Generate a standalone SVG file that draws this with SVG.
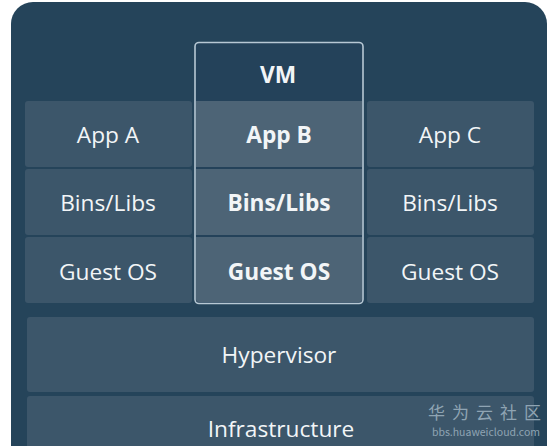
<svg xmlns="http://www.w3.org/2000/svg" width="554" height="446" viewBox="0 0 554 446">
<style>
.cell{fill:#3c566a}
.cellb{fill:#4d6476}
.t{font-family:"Open Sans","Noto Sans",sans-serif;font-size:22.7px;fill:#f2f5f7;text-anchor:middle}
.b{font-weight:bold}
.wm{font-family:"Noto Sans CJK SC","Noto Sans",sans-serif;fill:#8fa4b3}
</style>
<rect width="554" height="446" fill="#ffffff"/>
<rect id="panel" x="11" y="2" width="536" height="470" rx="22" fill="#25445a"/>
<g id="vm">
<rect x="195" y="42.5" width="168" height="261" rx="4" fill="#24425a" stroke="#b7c8d4" stroke-width="1.6"/>
<text class="t b" x="278" y="83" font-size="24.5">VM</text>
</g>
<g id="appA"><rect class="cell" x="25" y="101" width="167" height="66" rx="3"/><text class="t" x="108" y="143">App A</text></g>
<g id="binsA"><rect class="cell" x="25" y="169" width="167" height="66" rx="3"/><text class="t" x="108" y="211">Bins/Libs</text></g>
<g id="osA"><rect class="cell" x="25" y="237" width="167" height="66" rx="3"/><text class="t" x="108" y="280">Guest OS</text></g>
<g id="appB"><rect class="cellb" x="196" y="101" width="166" height="66"/><text class="t b" x="279" y="143">App B</text></g>
<g id="binsB"><rect class="cellb" x="196" y="169" width="166" height="66"/><text class="t b" x="279" y="211">Bins/Libs</text></g>
<g id="osB"><path class="cellb" d="M196 237H362V299a3 3 0 0 1-3 3H199a3 3 0 0 1-3-3Z"/><text class="t b" x="279" y="280">Guest OS</text></g>
<g id="appC"><rect class="cell" x="367" y="101" width="167" height="66" rx="3"/><text class="t" x="450" y="143">App C</text></g>
<g id="binsC"><rect class="cell" x="367" y="169" width="167" height="66" rx="3"/><text class="t" x="450" y="211">Bins/Libs</text></g>
<g id="osC"><rect class="cell" x="367" y="237" width="167" height="66" rx="3"/><text class="t" x="450" y="280">Guest OS</text></g>
<g id="hypervisor"><rect class="cell" x="27" y="317" width="507" height="75" rx="3"/><text class="t" x="279" y="363">Hypervisor</text></g>
<g id="infrastructure"><rect class="cell" x="27" y="396" width="507" height="60" rx="3"/><text class="t" x="281" y="437">Infrastructure</text></g>
<g id="connectors"></g>
<g id="watermark">
<text class="wm" x="488" y="419" font-size="17" text-anchor="middle" letter-spacing="7">华为云社区</text>
<text class="wm" x="486" y="436" font-size="10.5" text-anchor="middle" font-family="Liberation Sans,sans-serif">bbs.huaweicloud.com</text>
</g>
</svg>
